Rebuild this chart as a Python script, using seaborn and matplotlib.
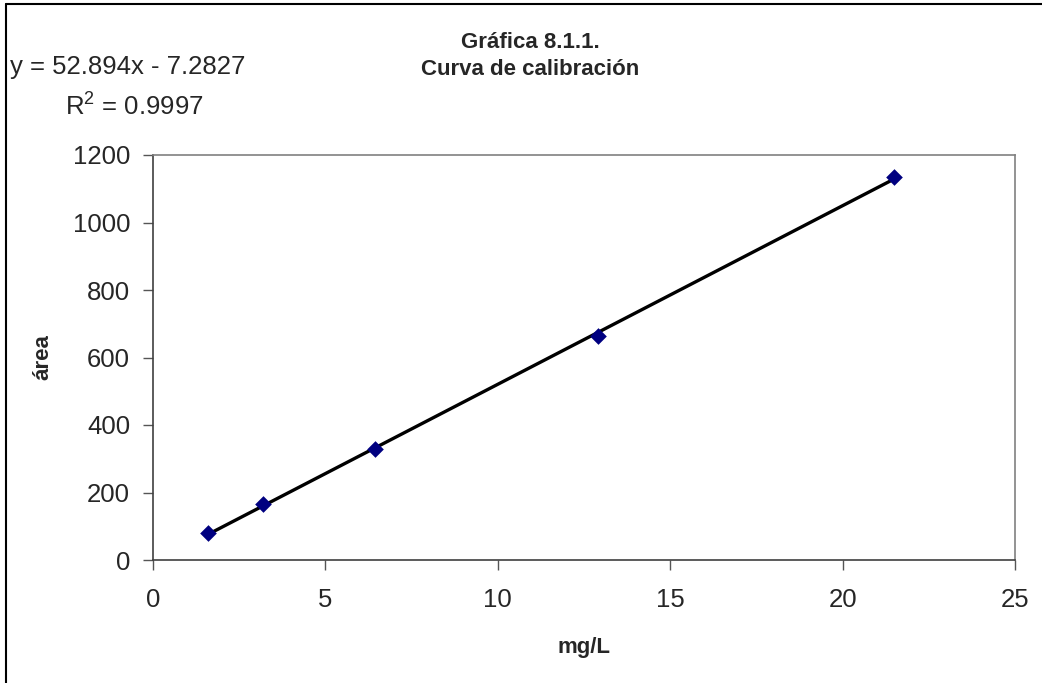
import seaborn as sns
import matplotlib.pyplot as plt
import pandas as pd

# calibration data
conc = [1.6, 3.2, 6.45, 12.9, 21.5]
area = [79, 166, 329, 663, 1136]
x_ticks = [0, 5, 10, 15, 20, 25]
y_ticks = [0, 200, 400, 600, 800, 1000, 1200]
title = 'Gráfica 8.1.1.\nCurva de calibración'
eq_text = 'y = 52.894x - 7.2827'
r2_text = 'R$^2$ = 0.9997'

sns.set_style('white')
plt.rcParams['font.family'] = ['Liberation Sans', 'DejaVu Sans']
plt.rcParams['mathtext.fontset'] = 'custom'
plt.rcParams['mathtext.rm'] = 'Liberation Sans'

df = pd.DataFrame({'mg/L': conc, 'área': area})

fig = plt.figure(figsize=(10.42, 6.83), dpi=100)
ax = fig.add_axes([153 / 1042, 1 - 560 / 683, 862 / 1042, 405 / 683])

sns.regplot(data=df, x='mg/L', y='área', ax=ax, ci=None, marker='D',
            scatter_kws={'color': '#000080', 's': 72, 'alpha': 1,
                         'edgecolors': '#000080', 'linewidths': 0, 'zorder': 3},
            line_kws={'color': 'black', 'lw': 2.4, 'zorder': 2})

ax.set_xlim(0, 25)
ax.set_ylim(0, 1200)
ax.set_xticks(x_ticks)
ax.set_yticks(y_ticks)
ax.tick_params(axis='both', labelsize=18.5, length=7, width=1, color='#555555',
               direction='out', bottom=True, left=True)
ax.tick_params(axis='y', pad=9.5)
ax.tick_params(axis='x', pad=13)
for s in ax.spines.values():
    s.set_color('#808080')
    s.set_linewidth(1.2)
ax.spines['left'].set_color('#404040')
ax.spines['bottom'].set_color('#404040')

ax.set_xlabel('mg/L', fontsize=16, fontweight='bold')
ax.set_ylabel('área', fontsize=16, fontweight='bold')
ax.xaxis.set_label_coords(0.5, -0.19)
ax.yaxis.set_label_coords(-0.116, 0.5)

fig.text(530 / 1042, 1 - 56 / 683, title, ha='center', va='center',
         fontsize=16, fontweight='bold', linespacing=1.35)
fig.text(10 / 1042, 1 - 67 / 683, eq_text, ha='left', va='center', fontsize=18.5)
fig.text(134 / 1042, 1 - 106 / 683, r2_text, ha='center', va='center', fontsize=18.5)

# chart border
fig.add_artist(plt.Line2D([6 / 1042, 6 / 1042], [0, 1 - 4 / 683], color='black', lw=1.5))
fig.add_artist(plt.Line2D([6 / 1042, 1], [1 - 4 / 683, 1 - 4 / 683], color='black', lw=1.5))

fig.savefig('out.png', dpi=100)
